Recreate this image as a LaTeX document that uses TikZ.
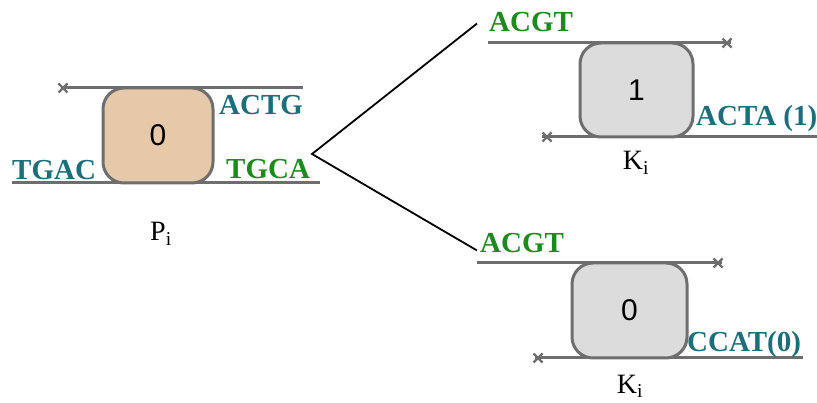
\documentclass[tikz,border=0pt]{standalone}
\usepackage{fontspec}
\setmainfont{Liberation Serif}
\newfontfamily\digitfont{Liberation Sans}
\definecolor{strandgray}{HTML}{6E6E6E}
\definecolor{peach}{HTML}{E6C9A8}
\definecolor{boxgray}{HTML}{DCDCDC}
\definecolor{seqteal}{HTML}{1B6E7A}
\definecolor{seqgreen}{HTML}{1C8A1C}
\tikzset{cross/.pic={\draw[line width=2.4pt, strandgray] (-4.5,-4.5) -- (4.5,4.5) (-4.5,4.5) -- (4.5,-4.5);}}
\begin{document}
\begin{tikzpicture}[x=1pt,y=-1pt,
    strand/.style={line width=3pt, strandgray},
    gate/.style={draw=strandgray, line width=3pt, rounded corners=21pt,
        font=\digitfont\fontsize{30}{30}\selectfont},
    seq/.style={font=\bfseries\fontsize{29}{29}\selectfont, inner sep=0pt, anchor=base west},
    caption/.style={font=\fontsize{28}{28}\selectfont, inner sep=0pt, anchor=base}]
    \useasboundingbox (0,0) rectangle (817,403);

    % P_i
    \draw[strand] (63,88) -- (303,88);
    \draw[strand] (12,183) -- (320,183);
    \pic at (63,88) {cross};
    \node[gate, fill=peach, minimum width=110pt, minimum height=95pt] (pgate) at (158,135.5) {0};
    \node[seq, seqteal] (actg) at (219,115) {ACTG};
    \node[seq, seqteal] (tgac) at (12,180) {TGAC};
    \node[seq, seqgreen] (tgca) at (226,179) {TGCA};
    \node[caption] (pname) at (161,241) {P\textsubscript{i}};

    % K_i oben
    \draw[strand] (488,43) -- (731,43);
    \draw[strand] (542,137) -- (817,137);
    \pic at (727,43) {cross};
    \pic at (547,137) {cross};
    \node[gate, fill=boxgray, minimum width=113pt, minimum height=94pt] (kgateA) at (636.5,90) {1};
    \node[seq, seqgreen] (acgtA) at (489,32) {ACGT};
    \node[seq, seqteal] (acta) at (696,126) {ACTA (1)};
    \node[caption] (knameA) at (636,170) {K\textsubscript{i}};

    % K_i unten
    \draw[strand] (477,263) -- (722,263);
    \draw[strand] (535,358) -- (803,358);
    \pic at (718,263) {cross};
    \pic at (538,358) {cross};
    \node[gate, fill=boxgray, minimum width=115pt, minimum height=95pt] (kgateB) at (629.5,310.5) {0};
    \node[seq, seqgreen] (acgtB) at (480,253) {ACGT};
    \node[seq, seqteal] (ccat) at (687,352) {CCAT(0)};
    \node[caption] (knameB) at (630,393) {K\textsubscript{i}};

    % Verzweigung
    \coordinate (fork) at (312,154);
    \draw[line width=1.8pt] ([xshift=-12pt,yshift=-1pt]acgtA.west) -- (fork)
        -- ([xshift=-3pt,yshift=3pt]acgtB.south west);
\end{tikzpicture}
\end{document}
